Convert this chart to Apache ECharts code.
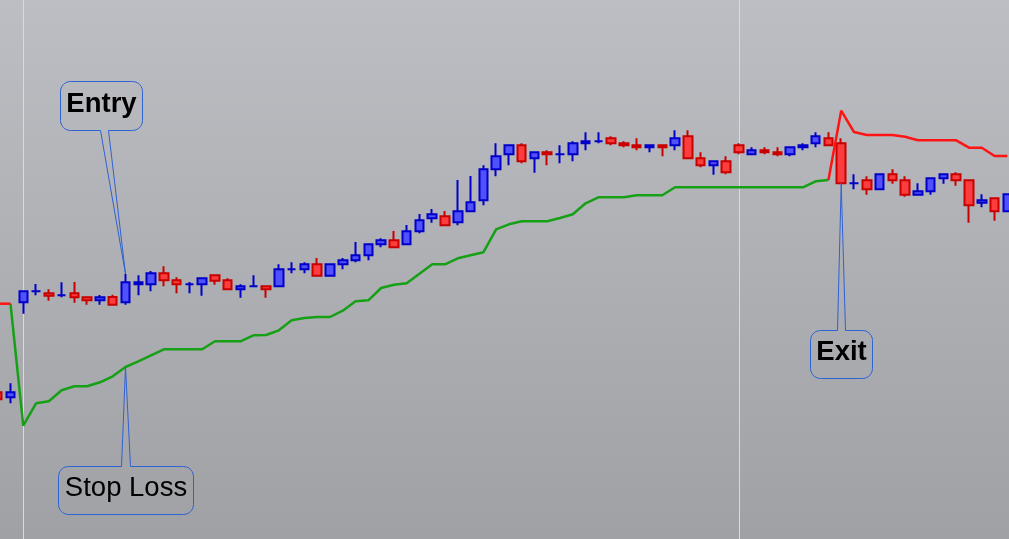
<!DOCTYPE html>
<html>
<head>
<meta charset="utf-8">
<title>Entry / Stop Loss / Exit</title>
<script src="https://cdn.jsdelivr.net/npm/echarts@6/dist/echarts.min.js"></script>
<style>
  html, body { margin: 0; padding: 0; }
  #chart { width: 1009px; height: 539px; }
</style>
</head>
<body>
<div id="chart"></div>
<script>
// bar index of the first candle in the arrays below
const firstBar = -1;

const opens = [
  14.67, 14.17, 23.67, 24.77, 24.57, 24.37, 24.57, 24.17, 23.87, 24.2,
  23.67, 25.47, 25.47, 26.57, 25.87, 25.47, 25.47, 26.37, 25.87, 24.97,
  25.27, 25.27, 25.27, 26.97, 26.97, 27.47, 26.33, 27.47, 27.87, 28.37,
  29.47, 29.87, 29.47, 30.77, 32.07, 32.27, 31.67, 32.77, 33.87, 36.97,
  38.47, 39.37, 38.07, 38.67, 38.47, 38.47, 39.57, 39.77, 40.07, 39.57,
  39.37, 39.17, 39.37, 39.37, 40.27, 38.07, 37.37, 37.77, 39.37, 38.47,
  38.87, 38.67, 38.47, 39.17, 39.57, 40.07, 39.57, 35.57, 35.87, 34.97,
  36.47, 35.87, 34.43, 34.77, 36.07, 36.47, 35.87, 33.63, 34.07, 32.77
];
const closes = [
  13.97, 14.67, 24.77, 24.77, 24.33, 24.37, 24.17, 23.87, 24.17, 23.43,
  25.67, 25.67, 26.57, 25.87, 25.47, 25.47, 26.07, 25.83, 24.97, 25.27,
  25.27, 24.97, 26.97, 26.97, 27.47, 26.33, 27.47, 27.87, 28.37, 29.47,
  29.87, 29.17, 30.77, 31.87, 32.47, 31.37, 32.77, 33.67, 36.97, 38.27,
  39.37, 37.77, 38.67, 38.47, 38.47, 39.57, 39.77, 39.77, 39.57, 39.37,
  39.17, 39.37, 39.17, 40.07, 38.07, 37.37, 37.77, 36.67, 38.67, 38.87,
  38.67, 38.47, 39.17, 39.37, 40.27, 39.37, 35.57, 35.57, 34.97, 36.47,
  35.87, 34.43, 34.77, 36.07, 36.47, 35.87, 33.37, 33.87, 32.77, 34.47
];
const lows = [
  13.8, 13.57, 22.53, 24.37, 23.83, 24.17, 23.63, 23.43, 23.43, 23.43,
  23.43, 24.37, 24.77, 25.27, 24.57, 24.57, 24.33, 25.43, 24.97, 24.13,
  25.27, 24.13, 25.27, 26.57, 26.57, 26.33, 26.33, 26.97, 27.67, 27.87,
  29.17, 29.17, 29.47, 30.57, 31.63, 31.37, 31.37, 32.77, 33.37, 36.27,
  37.37, 37.57, 36.63, 37.37, 37.57, 37.77, 38.87, 39.57, 39.37, 39.17,
  38.87, 38.67, 38.27, 38.87, 38.07, 37.17, 36.43, 36.47, 38.47, 38.47,
  38.47, 38.27, 38.27, 38.87, 39.17, 39.37, 35.57, 34.97, 34.43, 34.97,
  35.53, 34.23, 34.43, 34.43, 35.53, 35.33, 31.63, 33.17, 31.83, 32.77
];
const highs = [
  14.9, 15.57, 24.77, 25.5, 24.97, 25.67, 25.7, 24.17, 24.4, 24.43,
  26.5, 26.37, 26.8, 27.27, 26.17, 25.7, 26.07, 26.37, 26.07, 25.47,
  26.37, 25.27, 27.47, 27.67, 27.67, 28.1, 27.47, 28.1, 29.7, 29.47,
  30.07, 30.8, 31.4, 32.5, 33.0, 32.8, 35.9, 36.3, 37.37, 39.57,
  39.37, 39.57, 38.67, 38.87, 39.37, 39.77, 40.67, 40.67, 40.27, 39.77,
  40.07, 39.37, 39.37, 40.87, 40.87, 38.67, 37.77, 38.27, 39.57, 39.17,
  39.17, 39.17, 39.17, 39.57, 40.67, 40.67, 40.07, 36.47, 36.27, 36.47,
  36.97, 36.27, 35.57, 36.07, 36.47, 36.67, 35.87, 34.47, 34.07, 34.47
];

// trailing stop while long (green), starts at bar 0
const longStopStart = 0;
const longStop = [
  23.53, 11.33, 13.57, 13.77, 14.87, 15.27, 15.27, 15.67, 16.27, 17.2,
  17.77, 18.37, 18.97, 18.97, 18.97, 18.97, 19.77, 19.77, 19.77, 20.37,
  20.4, 20.87, 21.87, 22.1, 22.2, 22.2, 22.83, 23.77, 23.87, 25.1,
  25.43, 25.57, 26.53, 27.47, 27.47, 28.07, 28.37, 28.67, 30.97, 31.47,
  31.77, 31.77, 31.77, 32.1, 32.47, 33.57, 34.17, 34.17, 34.17, 34.37,
  34.37, 34.37, 35.17, 35.17, 35.17, 35.17, 35.17, 35.17, 35.17, 35.17,
  35.17, 35.17, 35.17, 35.77, 35.9
];
// trailing stop while flat / short (red)
const shortStopBeforeStart = -1;
const shortStopBefore = [23.53, 23.53];
const shortStopAfterStart = 64;
const shortStopAfter = [
  35.9, 42.83, 40.7, 40.4, 40.4, 40.4, 40.23, 39.87, 39.87, 39.87,
  39.87, 39.13, 39.13, 38.3, 38.3
];

// session separators
const sessionBreaks = [1, 57];

// callouts: text and the bar they point to
const calloutLabels = ['Entry', 'Stop Loss', 'Exit'];
const calloutBars = [9, 9, 65];

function at(arr, bar, start) {
  return arr[bar - start];
}

const calloutValues = [
  at(highs, 9, firstBar),
  at(longStop, 9, longStopStart),
  at(closes, 65, firstBar)
];

// box geometry relative to the pointer tip (pixels)
const calloutBoxes = [
  { dx: -66, dy: -193, w: 82, h: 49, side: 'bottom', base: [40, 48], bold: true },
  { dx: -68, dy: 99, w: 135, h: 48, side: 'top', base: [63, 72], bold: false },
  { dx: -31, dy: 147, w: 62, h: 48, side: 'top', base: [27, 35], bold: true }
];

function toSeries(arr, start) {
  return arr.map(function (v, i) { return [start + i, v]; });
}

const candles = opens.map(function (o, i) {
  return [firstBar + i, o, closes[i], lows[i], highs[i]];
});

function arc(points, cx, cy, r, a0, a1) {
  const steps = 6;
  for (let k = 0; k <= steps; k++) {
    const a = (a0 + (a1 - a0) * k / steps) * Math.PI / 180;
    points.push([cx + r * Math.cos(a), cy + r * Math.sin(a)]);
  }
}

function bubblePoints(x, y, w, h, r, side, base, tip) {
  const pts = [];
  if (side === 'top') {
    pts.push([x + base[0], y], tip, [x + base[1], y]);
  }
  arc(pts, x + w - r, y + r, r, -90, 0);
  arc(pts, x + w - r, y + h - r, r, 0, 90);
  if (side === 'bottom') {
    pts.push([x + base[1], y + h], tip, [x + base[0], y + h]);
  }
  arc(pts, x + r, y + h - r, r, 90, 180);
  arc(pts, x + r, y + r, r, 180, 270);
  return pts;
}

function renderCallout(params, api) {
  const i = params.dataIndex;
  const box = calloutBoxes[i];
  const tip = api.coord([api.value(0), api.value(1)]);
  const x = Math.round(tip[0] + box.dx) + 0.5;
  const y = Math.round(tip[1] + box.dy) + 0.5;
  const font = (box.bold ? 'bold ' : '') + '27.5px "Liberation Sans", Arial, sans-serif';
  return {
    type: 'group',
    children: [
      {
        type: 'polygon',
        shape: { points: bubblePoints(x, y, box.w, box.h, 10, box.side, box.base, tip) },
        style: { fill: 'none', stroke: '#2f62d2', lineWidth: 1 }
      },
      {
        type: 'text',
        style: {
          text: calloutLabels[i],
          x: x + box.w / 2,
          y: y + box.h / 2 - 2,
          fill: '#000',
          font: font,
          align: 'center',
          verticalAlign: 'middle',
          textAlign: 'center',
          textVerticalAlign: 'middle'
        }
      }
    ]
  };
}

const chart = echarts.init(document.getElementById('chart'), null, { renderer: 'canvas' });

chart.setOption({
  animation: false,
  backgroundColor: new echarts.graphic.LinearGradient(0, 0, 0, 1, [
    { offset: 0, color: '#bdbec3' },
    { offset: 1, color: '#a0a1a5' }
  ]),
  grid: { left: 0, right: 0, top: 0, bottom: 0 },
  xAxis: {
    type: 'value',
    min: -0.82,
    max: 78.13,
    show: false,
    splitLine: { show: false }
  },
  yAxis: {
    type: 'value',
    min: 0,
    max: 53.9,
    show: false,
    splitLine: { show: false }
  },
  series: [
    {
      type: 'line',
      name: 'breaks',
      data: [],
      silent: true,
      markLine: {
        z: 1,
        silent: true,
        symbol: ['none', 'none'],
        label: { show: false },
        lineStyle: { color: '#dadade', width: 1, type: 'solid' },
        data: sessionBreaks.map(function (b) { return { xAxis: b }; })
      }
    },
    {
      type: 'candlestick',
      name: 'price',
      data: candles,
      encode: { x: 0, y: [1, 2, 3, 4] },
      barWidth: 9,
      z: 3,
      itemStyle: {
        color: '#5151fb',
        color0: '#fc3d3d',
        borderColor: '#0000c8',
        borderColor0: '#c80000',
        borderColorDoji: '#0000c8',
        borderWidth: 2
      }
    },
    {
      type: 'line',
      name: 'long stop',
      data: toSeries(longStop, longStopStart),
      showSymbol: false,
      z: 4,
      lineStyle: { color: '#16a016', width: 2.5 }
    },
    {
      type: 'line',
      name: 'short stop',
      data: toSeries(shortStopBefore, shortStopBeforeStart),
      showSymbol: false,
      z: 4,
      lineStyle: { color: '#ff1414', width: 2.5 }
    },
    {
      type: 'line',
      name: 'short stop 2',
      data: toSeries(shortStopAfter, shortStopAfterStart),
      showSymbol: false,
      z: 4,
      lineStyle: { color: '#ff1414', width: 2.5 }
    },
    {
      type: 'custom',
      name: 'callouts',
      silent: true,
      z: 10,
      clip: false,
      encode: { x: 0, y: 1 },
      data: calloutBars.map(function (b, i) { return [b, calloutValues[i]]; }),
      renderItem: renderCallout
    }
  ]
});
</script>
</body>
</html>
